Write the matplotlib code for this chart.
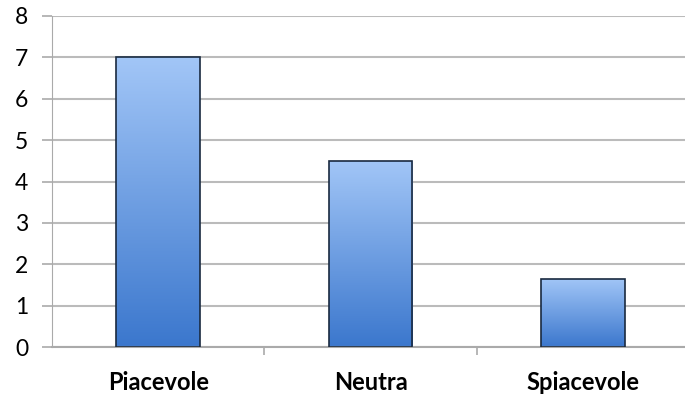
import numpy as np
import matplotlib
matplotlib.use("Agg")
import matplotlib.pyplot as plt
from matplotlib.colors import LinearSegmentedColormap

categories = ["Piacevole", "Neutra", "Spiacevole"]
values = [7, 4.5, 1.65]
yticks = [0, 1, 2, 3, 4, 5, 6, 7, 8]

plt.rcParams['font.family'] = ['Lato', 'DejaVu Sans']

fig = plt.figure(figsize=(6.85, 3.98), dpi=100)
ax = fig.add_axes([52/685, 51/398, 637/685, 331/398])

grad = LinearSegmentedColormap.from_list("bar", ["#3b77cd", "#a2c6f7"])
x = np.arange(len(categories))
width = 0.395

bars = ax.bar(x, values, width=width, facecolor="none", edgecolor="#1a2a40",
              linewidth=1.2, zorder=3)
for b in bars:
    x0, y0 = b.get_x(), b.get_y()
    w, h = b.get_width(), b.get_height()
    img = ax.imshow(np.linspace(0, 1, 256).reshape(-1, 1), cmap=grad,
                    origin="lower", aspect="auto",
                    extent=[x0, x0 + w, y0, y0 + h], zorder=2)
    img.set_clip_path(b)

ax.set_xlim(-0.5, len(categories) - 0.5)
ax.set_ylim(0, 8)
ax.set_yticks(yticks)
ax.set_yticklabels([str(t) for t in yticks], fontsize=16.5)
ax.set_xticks(x)
ax.set_xticklabels(categories, fontsize=17, fontweight="bold")
ax.tick_params(axis="x", length=0, pad=17)
ax.set_xticks([0.5, 1.5], minor=True)
ax.tick_params(axis="x", which="minor", length=6, color="#aaaaaa", width=1.2)
ax.tick_params(axis="y", length=7, color="#aaaaaa", width=1.2, pad=10)

ax.grid(axis="y", color="#bbbbbb", linewidth=1.5, zorder=0)
ax.set_axisbelow(True)
for s in ["top", "right"]:
    ax.spines[s].set_visible(False)
ax.spines["left"].set_color("#aaaaaa")
ax.spines["bottom"].set_color("#aaaaaa")
ax.spines["bottom"].set_linewidth(1.5)

fig.savefig("out.png", dpi=100)
